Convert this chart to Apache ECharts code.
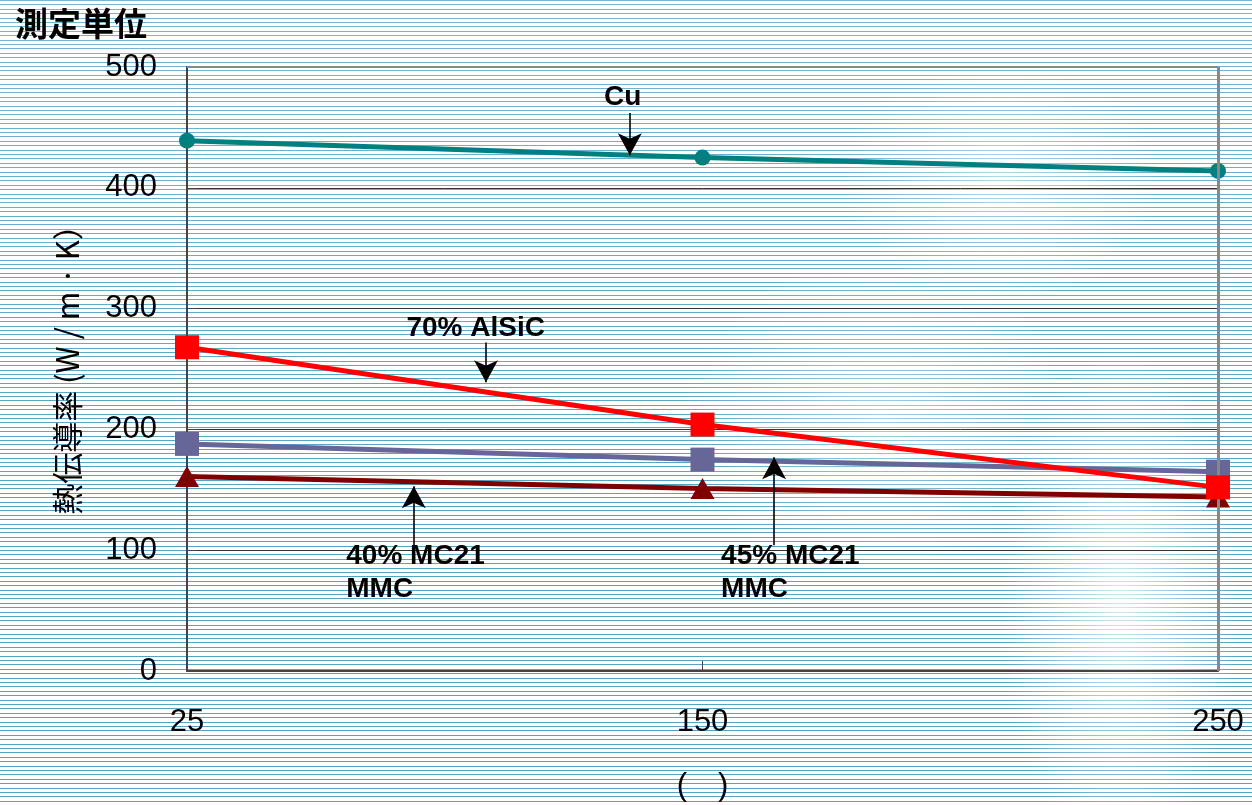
<!DOCTYPE html>
<html>
<head>
<meta charset="utf-8">
<script src="https://cdn.jsdelivr.net/npm/echarts@6/dist/echarts.min.js"></script>
<style>
html,body{margin:0;padding:0;width:1252px;height:805px;overflow:hidden;}
body{
  background:
    radial-gradient(ellipse 120px 260px at 1120px 600px, rgba(255,255,255,0.75), rgba(255,255,255,0) 100%),
    radial-gradient(ellipse 160px 120px at 1000px 180px, rgba(255,255,255,0.5), rgba(255,255,255,0) 100%),
    radial-gradient(ellipse 200px 160px at 880px 420px, rgba(255,255,255,0.45), rgba(255,255,255,0) 100%),
    linear-gradient(to bottom, rgba(255,255,255,0.2), rgba(255,255,255,0) 60%),
    repeating-linear-gradient(to bottom, #52a6c4 0px, #52a6c4 1px, #ffffff 1px, #ffffff 4.4px);
}
#chart{width:1252px;height:805px;}
</style>
</head>
<body>
<div id="chart"></div>
<script>
// Categories (temperature)
const categories = ['25', '150', '250'];
// Series values (thermal conductivity, W/m·K)
const cuValues = [439, 425, 414];
const alsic70Values = [268, 204, 152];
const mc21_45Values = [188, 175, 165];
const mc21_40Values = [161, 151, 144];
const yTicks = [0, 100, 200, 300, 400, 500];

// Annotation texts and their anchors (in data units: x = category position 0..2, y = value)
const annotationTexts = ['Cu', '70% AlSiC', '40% MC21\nMMC', '45% MC21\nMMC'];
const annotationAnchors = [[0.845, 475], [0.56, 284], [0.309, 81], [1.036, 81]];
const annotationAlign = ['center', 'center', 'left', 'left'];
// Arrows: [x, yFrom, yTo]
const arrows = [[0.859, 462, 427], [0.580, 272, 239], [0.440, 104, 153], [1.139, 104, 177]];

const chart = echarts.init(document.getElementById('chart'), null, {renderer: 'canvas'});

const labelFont = {fontFamily: 'Liberation Sans, Arial, sans-serif', fontSize: 31, color: '#000'};

const option = {
  backgroundColor: 'transparent',
  animation: false,
  title: {
    text: '測定単位',
    left: 10, top: 2,
    textStyle: {fontFamily: 'Noto Sans CJK JP', fontWeight: 'bold', fontSize: 33, color: '#000'}
  },
  grid: {left: 187, right: 34, top: 67, bottom: 134, show: false, outerBoundsMode: 'none', containLabel: false},
  xAxis: [{
    type: 'category',
    data: categories,
    boundaryGap: false,
    name: '(\u3000)',
    nameLocation: 'middle',
    nameGap: 100,
    nameTextStyle: labelFont,
    axisLine: {show: true, lineStyle: {color: '#444', width: 2}},
    axisTick: {show: true, inside: true, length: 10, lineStyle: {color: '#444', width: 1}},
    axisLabel: Object.assign({margin: 36}, labelFont),
    splitLine: {show: false}
  }, {
    type: 'value', min: 0, max: 2, show: false
  }],
  yAxis: [{
    type: 'value',
    min: yTicks[0], max: yTicks[yTicks.length - 1], interval: 100,
    name: '熱伝導率 (W / m · K）',
    nameLocation: 'middle',
    nameGap: 104,
    nameRotate: 90,
    nameTextStyle: {fontFamily: 'Noto Sans CJK JP', fontSize: 31, color: '#000', lineHeight: 31, align: 'center', padding: [0, 0, 0, 14]},
    axisLine: {show: true, lineStyle: {color: '#444', width: 2}},
    axisTick: {show: true, inside: true, length: 10, lineStyle: {color: '#444', width: 1}},
    axisLabel: Object.assign({margin: 30}, labelFont),
    splitLine: {show: true, lineStyle: {color: '#333', width: 1}}
  }],
  series: [
    {
      name: 'Cu', type: 'line', data: cuValues,
      symbol: 'circle', symbolSize: 16,
      lineStyle: {color: '#008080', width: 5},
      itemStyle: {color: '#008080'},
      z: 3
    },
    {
      name: '40% MC21 MMC', type: 'line', data: mc21_40Values,
      symbol: 'triangle', symbolSize: [24, 21],
      lineStyle: {color: '#800000', width: 5},
      itemStyle: {color: '#800000'},
      z: 3
    },
    {
      name: '45% MC21 MMC', type: 'line', data: mc21_45Values,
      symbol: 'rect', symbolSize: 24,
      lineStyle: {color: '#666699', width: 5},
      itemStyle: {color: '#666699'},
      z: 4
    },
    {
      name: '70% AlSiC', type: 'line', data: alsic70Values,
      symbol: 'rect', symbolSize: 24,
      lineStyle: {color: '#ff0000', width: 5},
      itemStyle: {color: '#ff0000'},
      z: 5
    },
    {
      name: 'borders', type: 'line', xAxisIndex: 1, data: [],
      silent: true,
      markLine: {
        silent: true, symbol: 'none', animation: false,
        label: {show: false},
        lineStyle: {type: 'solid'},
        data: [
          [{coord: [0, 500], lineStyle: {color: '#888', width: 2}}, {coord: [2, 500]}],
          [{coord: [2, 0], lineStyle: {color: '#888', width: 3}}, {coord: [2, 500]}]
        ]
      },
      z: 2
    },
    {
      name: 'annotations', type: 'scatter', xAxisIndex: 1,
      symbolSize: 0, silent: true,
      itemStyle: {opacity: 1},
      data: annotationTexts.map((t, i) => ({
        value: annotationAnchors[i],
        label: {
          show: true, formatter: t, position: 'inside', align: annotationAlign[i],
          verticalAlign: 'middle', opacity: 1,
          fontFamily: 'Liberation Sans, Arial, sans-serif', fontWeight: 'bold', fontSize: 28,
          color: '#000', lineHeight: 33
        }
      })),
      markLine: {
        silent: true, animation: false,
        symbol: ['none', 'arrow'], symbolSize: [18, 22],
        label: {show: false},
        lineStyle: {color: '#000', width: 1.6, type: 'solid', opacity: 1},
        data: arrows.map(a => [{coord: [a[0], a[1]]}, {coord: [a[0], a[2]]}])
      },
      z: 6
    }
  ]
};
chart.setOption(option);
</script>
</body>
</html>
